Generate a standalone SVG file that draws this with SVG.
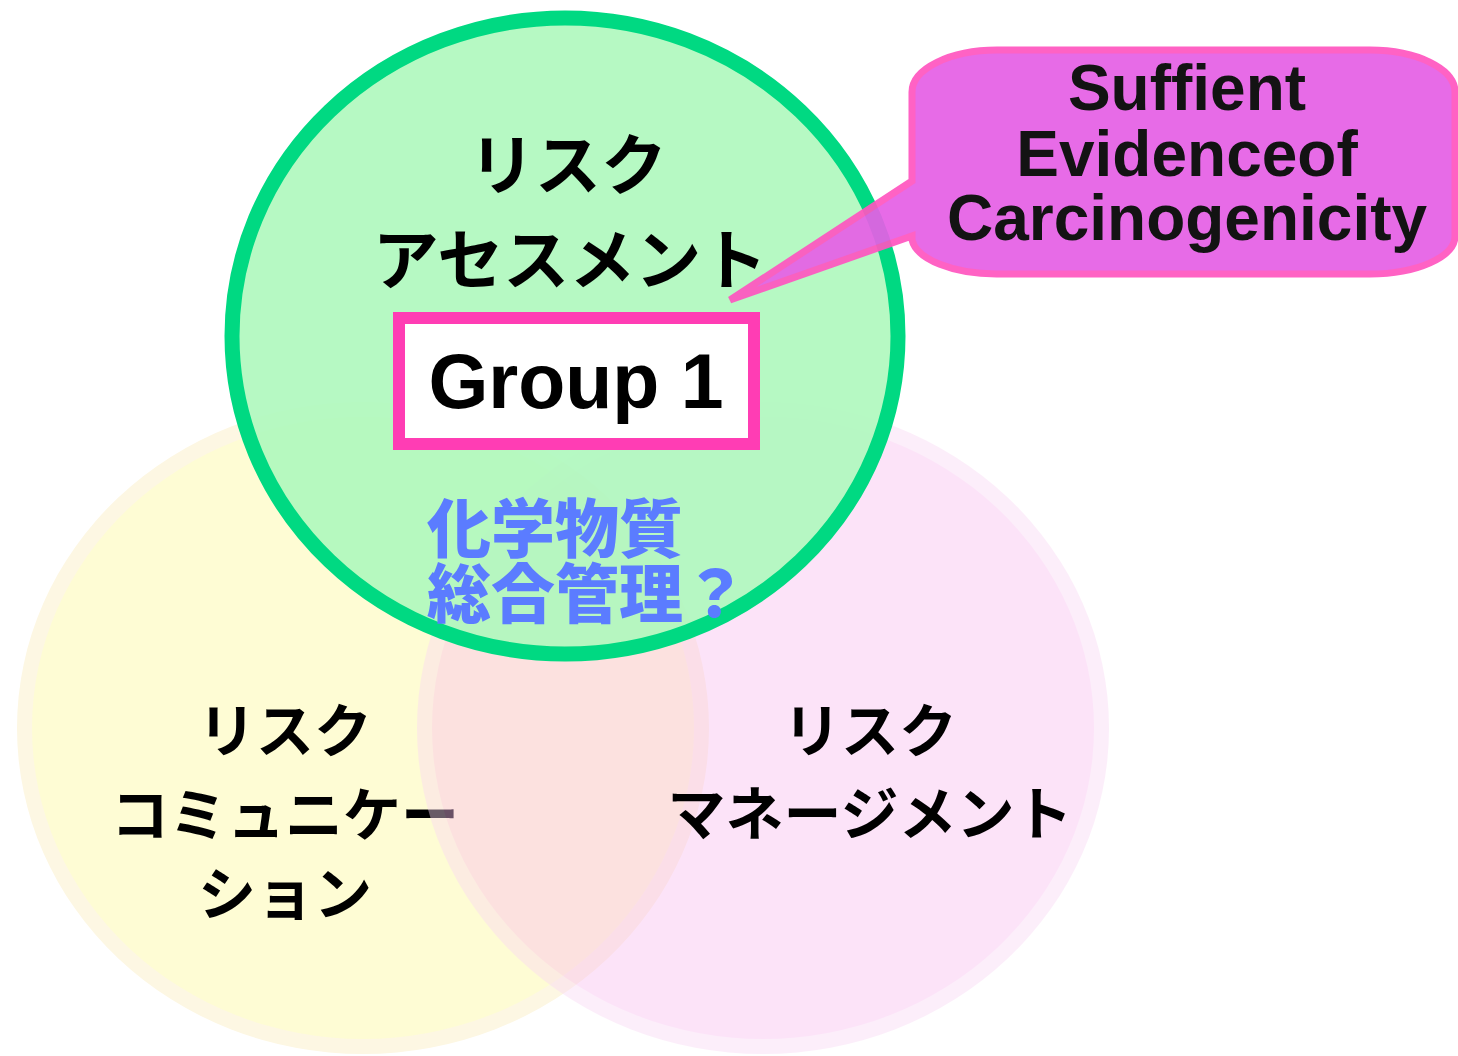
<svg xmlns="http://www.w3.org/2000/svg" width="1458" height="1056" viewBox="0 0 1458 1056">
<style>
.jp{font-family:"Noto Sans CJK JP","Noto Sans CJK SC",sans-serif;font-weight:700;fill:#000;text-anchor:middle}
.blue{font-family:"Noto Sans CJK JP","Noto Sans CJK SC",sans-serif;font-weight:900;fill:#5b7cff}
.en{font-family:"Liberation Sans",Arial,sans-serif;font-weight:bold;fill:#000;text-anchor:middle}
</style>
<rect width="1458" height="1056" fill="#fff"/>
<g id="communication">
<ellipse cx="363" cy="728" rx="346" ry="326" fill="#fdf7e3"/>
<ellipse cx="363" cy="728" rx="331" ry="311" fill="#fefcd4"/>
<text class="jp" font-size="58"><tspan x="285" y="752">リスク</tspan><tspan x="285" y="836">コミュニケー</tspan><tspan x="285" y="915">ション</tspan></text>
</g>
<g id="management">
<g opacity="0.42">
<ellipse cx="763" cy="728" rx="346" ry="326" fill="#fad8f5"/>
<ellipse cx="763" cy="728" rx="331" ry="311" fill="#fabef0"/>
</g>
<text class="jp" font-size="58"><tspan x="870" y="752">リスク</tspan><tspan x="870" y="835">マネージメント</tspan></text>
</g>
<g id="assessment">
<ellipse cx="565" cy="336" rx="333" ry="318" fill="#aef8bc" fill-opacity="0.9" stroke="#00d982" stroke-width="15"/>
<text class="jp" font-size="66"><tspan x="568" y="189">リスク</tspan><tspan x="570" y="284">アセスメント</tspan></text>
</g>
<g id="group1">
<rect x="399" y="318" width="355" height="126" fill="#fff" stroke="#ff3db4" stroke-width="12"/>
<text class="en" x="576" y="408" font-size="77">Group 1</text>
</g>
<g id="chemical">
<text class="blue" font-size="64"><tspan x="427" y="552">化学物質</tspan><tspan x="427" y="617">総合管理？</tspan></text>
</g>
<g id="callout" opacity="0.92">
<path d="M 997,50 H 1370 A 85 42 0 0 1 1455 92 V 236 A 85 38 0 0 1 1370 274 H 997 A 85 38 0 0 1 912 240 V 236 L 730 300 L 912 181 V 92 A 85 42 0 0 1 997 50 Z" fill="#e65fe6" stroke="#ff55c0" stroke-width="7" stroke-linejoin="miter"/>
<text class="en" font-size="64"><tspan x="1187" y="110">Suffient</tspan><tspan x="1187" y="176">Evidenceof</tspan><tspan x="1187" y="240">Carcinogenicity</tspan></text>
</g>
<g id="connectors"></g>
</svg>
